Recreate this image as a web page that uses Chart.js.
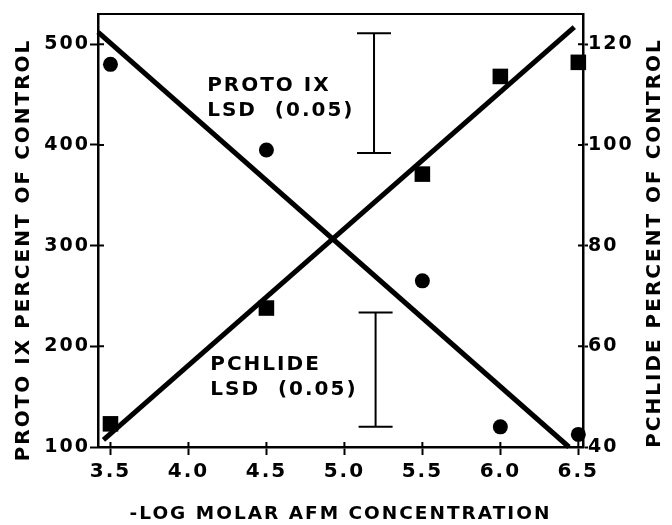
<!DOCTYPE html>
<html>
<head>
<meta charset="utf-8">
<script src="https://cdn.jsdelivr.net/npm/chart.js@4.4.0/dist/chart.umd.min.js"></script>
<style>
  body { margin: 0; background: #fff; }
  canvas { display: block; }
</style>
</head>
<body>
<canvas id="chart" width="672" height="525"></canvas>
<script>
const concentrations = [3.5, 4.5, 5.5, 6.0, 6.5];
const protoIX = [123, 238, 371, 468, 482];   // squares, left axis
const pchlide = [116, 99, 73, 44, 42.5];     // circles, right axis

// fitted lines, taken at their two ends
const protoFitX = [3.455, 6.474];
const protoFitY = [107, 517];
const pchlideFitX = [3.42, 6.44];
const pchlideFitY = [122.4, 40];

// LSD (0.05) bars
const lsdX = [5.19, 5.2];
const protoLsd = [392, 511];
const pchlideLsd = [44, 66.7];
const lsdNames = ['PROTO IX', 'PCHLIDE'];

const xTicks = [3.5, 4.0, 4.5, 5.0, 5.5, 6.0, 6.5];
const leftTicks = [100, 200, 300, 400, 500];
const rightTicks = [40, 60, 80, 100, 120];

const toPoints = (xs, ys) => xs.map((x, i) => ({ x: x, y: ys[i] }));

Chart.defaults.font.family = '"DejaVu Sans", sans-serif';
Chart.defaults.font.size = 19;
Chart.defaults.font.weight = 'bold';
Chart.defaults.color = '#000';

// extra drawing: frame top, inner tick marks, LSD bars, labels, y titles
const figureExtras = {
    id: 'figureExtras',
    beforeDraw(chart) {
        const ctx = chart.ctx;
        ctx.fillStyle = '#fff';
        ctx.fillRect(0, 0, chart.width, chart.height);
        ctx.letterSpacing = '2px';
    },
    afterDraw(chart) {
        const ctx = chart.ctx;
        const { x, yL, yR } = chart.scales;
        const area = chart.chartArea;
        ctx.save();
        ctx.strokeStyle = '#000';
        ctx.fillStyle = '#000';
        ctx.lineCap = 'butt';

        // top of the frame
        ctx.lineWidth = 2;
        ctx.beginPath();
        ctx.moveTo(area.left - 1, area.top);
        ctx.lineTo(area.right + 1, area.top);
        ctx.stroke();

        // tick marks poke into the plot too
        ctx.beginPath();
        xTicks.forEach(v => {
            const px = x.getPixelForValue(v);
            ctx.moveTo(px, area.bottom);
            ctx.lineTo(px, area.bottom - 5);
        });
        leftTicks.forEach(v => {
            const py = yL.getPixelForValue(v);
            ctx.moveTo(area.left, py);
            ctx.lineTo(area.left + 6, py);
        });
        rightTicks.forEach(v => {
            const py = yR.getPixelForValue(v);
            ctx.moveTo(area.right, py);
            ctx.lineTo(area.right - 5, py);
        });
        ctx.stroke();

        // LSD bars
        const bars = [
            { px: x.getPixelForValue(lsdX[0]), lo: yL.getPixelForValue(protoLsd[0]), hi: yL.getPixelForValue(protoLsd[1]) },
            { px: x.getPixelForValue(lsdX[1]), lo: yR.getPixelForValue(pchlideLsd[0]), hi: yR.getPixelForValue(pchlideLsd[1]) }
        ];
        ctx.lineWidth = 2;
        bars.forEach(b => {
            ctx.beginPath();
            ctx.moveTo(b.px, b.lo);
            ctx.lineTo(b.px, b.hi);
            ctx.moveTo(b.px - 17, b.lo);
            ctx.lineTo(b.px + 17, b.lo);
            ctx.moveTo(b.px - 17, b.hi);
            ctx.lineTo(b.px + 17, b.hi);
            ctx.stroke();
        });

        // LSD labels
        ctx.font = 'bold 20px "DejaVu Sans"';
        ctx.letterSpacing = '2px';
        ctx.textAlign = 'left';
        ctx.textBaseline = 'alphabetic';
        const anchors = [[4.12, 454], [4.14, 176]];
        anchors.forEach((a, i) => {
            const px = x.getPixelForValue(a[0]);
            const py = yL.getPixelForValue(a[1]);
            ctx.fillText(lsdNames[i], px, py);
            ctx.fillText('LSD  (0.05)', px, py + 25);
        });

        // y axis titles, both read bottom to top
        ctx.textAlign = 'center';
        ctx.textBaseline = 'middle';
        ctx.save();
        ctx.translate(24, 250);
        ctx.rotate(-Math.PI / 2);
        ctx.fillText('PROTO IX PERCENT OF CONTROL', 0, 0);
        ctx.restore();
        ctx.save();
        ctx.translate(655, 243);
        ctx.rotate(-Math.PI / 2);
        ctx.fillText('PCHLIDE PERCENT OF CONTROL', 0, 0);
        ctx.restore();

        ctx.restore();
    }
};

const ctx = document.getElementById('chart').getContext('2d');
const chart = new Chart(ctx, {
    type: 'scatter',
    data: {
        datasets: [
            {
                label: 'Proto IX',
                data: toPoints(concentrations, protoIX),
                yAxisID: 'yL',
                pointStyle: 'rect',
                pointRadius: 11,
                backgroundColor: '#000',
                borderColor: '#000',
                borderWidth: 0,
                clip: false
            },
            {
                label: 'Pchlide',
                data: toPoints(concentrations, pchlide),
                yAxisID: 'yR',
                pointStyle: 'circle',
                pointRadius: 7.5,
                backgroundColor: '#000',
                borderColor: '#000',
                borderWidth: 0,
                clip: false
            },
            {
                label: 'Proto IX fit',
                type: 'line',
                data: toPoints(protoFitX, protoFitY),
                yAxisID: 'yL',
                borderColor: '#000',
                borderWidth: 5,
                pointRadius: 0,
                fill: false,
                clip: false
            },
            {
                label: 'Pchlide fit',
                type: 'line',
                data: toPoints(pchlideFitX, pchlideFitY),
                yAxisID: 'yR',
                borderColor: '#000',
                borderWidth: 5,
                pointRadius: 0,
                fill: false,
                clip: false
            }
        ]
    },
    options: {
        responsive: false,
        animation: false,
        layout: { padding: { top: 14, left: 0, right: 0, bottom: 0 } },
        plugins: {
            legend: { display: false },
            tooltip: { enabled: false }
        },
        scales: {
            x: {
                type: 'linear',
                position: 'bottom',
                min: 3.42,
                max: 6.53,
                afterBuildTicks: s => { s.ticks = xTicks.map(v => ({ value: v })); },
                afterFit: s => { s.height = 78; },
                ticks: { padding: 5, font: { size: 20 }, callback: v => v.toFixed(1) },
                grid: { drawOnChartArea: false, color: '#000', tickLength: 8, tickWidth: 2 },
                border: { color: '#000', width: 2.5 },
                title: {
                    display: true,
                    text: '-LOG MOLAR AFM CONCENTRATION',
                    font: { size: 18.5 },
                    padding: { top: 0, bottom: 0 }
                }
            },
            yL: {
                type: 'linear',
                position: 'left',
                min: 100,
                max: 530,
                afterBuildTicks: s => { s.ticks = leftTicks.map(v => ({ value: v })); },
                afterFit: s => { s.width = 98; },
                ticks: { padding: 0, font: { size: 19 }, callback: v => String(v) },
                grid: { drawOnChartArea: false, color: '#000', tickLength: 8, tickWidth: 2 },
                border: { color: '#000', width: 2.5 }
            },
            yR: {
                type: 'linear',
                position: 'right',
                min: 40,
                max: 126,
                afterBuildTicks: s => { s.ticks = rightTicks.map(v => ({ value: v })); },
                afterFit: s => { s.width = 89; },
                ticks: { padding: 0, font: { size: 19 }, callback: v => String(v) },
                grid: { drawOnChartArea: false, color: '#000', tickLength: 5, tickWidth: 2 },
                border: { color: '#000', width: 2.5 }
            }
        }
    },
    plugins: [figureExtras]
});
</script>
</body>
</html>
